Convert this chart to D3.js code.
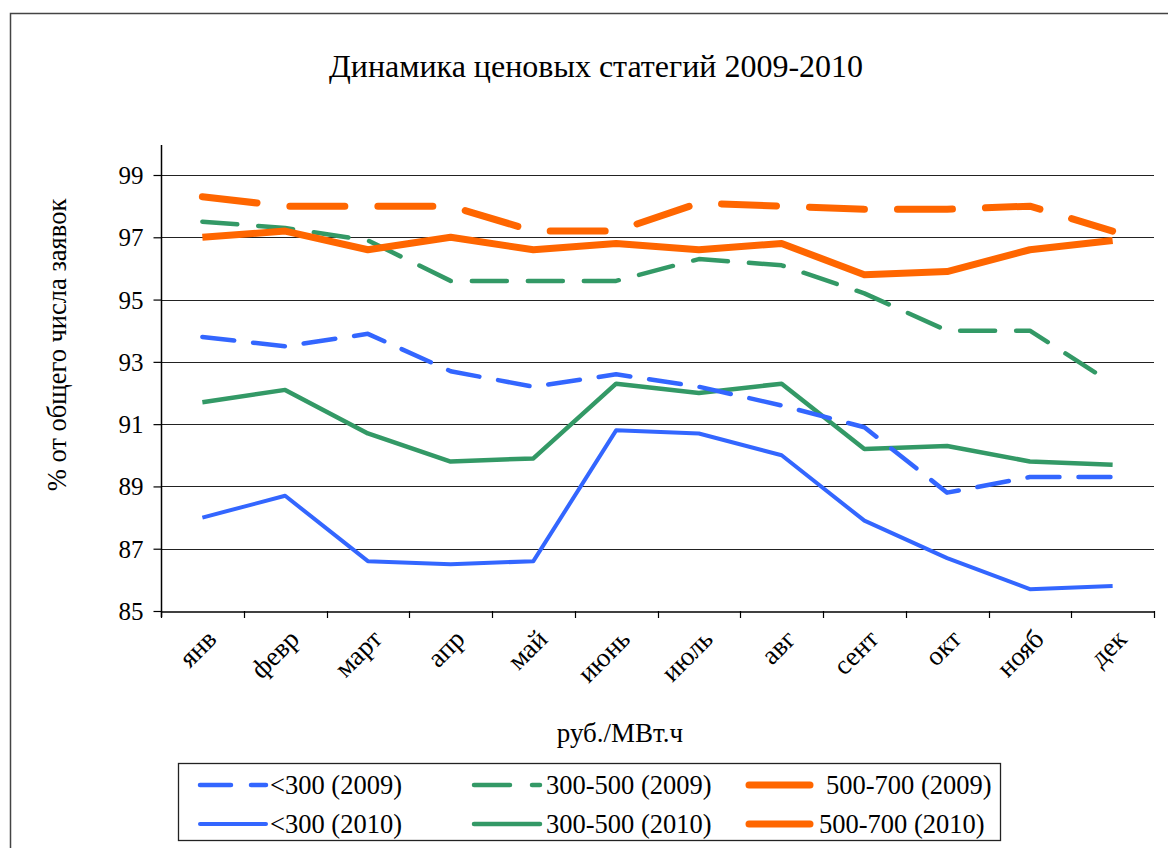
<!DOCTYPE html>
<html>
<head>
<meta charset="utf-8">
<script src="https://cdn.jsdelivr.net/npm/d3@7/dist/d3.min.js"></script>
<style>
  html, body { margin: 0; padding: 0; background: #fff; }
  svg { display: block; }
</style>
</head>
<body>
<svg id="chart" width="1168" height="848"></svg>
<script>
// Months (x categories)
const months = ["янв", "февр", "март", "апр", "май", "июнь", "июль", "авг", "сент", "окт", "нояб", "дек"];

// Share of bids by price band, % of total number of bids
const below300_2009 = [93.8, 93.5, 93.9, 92.7, 92.2, 92.6, 92.2, 91.6, 90.9, 88.8, 89.3, 89.3];
const band300_500_2009 = [97.5, 97.3, 96.9, 95.6, 95.6, 95.6, 96.3, 96.1, 95.2, 94.0, 94.0, 92.3];
const band500_700_2009 = [98.3, 98.0, 98.0, 98.0, 97.2, 97.2, 98.1, 98.0, 97.9, 97.9, 98.0, 97.2];
const below300_2010 = [88.0, 88.7, 86.6, 86.5, 86.6, 90.8, 90.7, 90.0, 87.9, 86.7, 85.7, 85.8];
const band300_500_2010 = [91.7, 92.1, 90.7, 89.8, 89.9, 92.3, 92.0, 92.3, 90.2, 90.3, 89.8, 89.7];
const band500_700_2010 = [97.0, 97.2, 96.6, 97.0, 96.6, 96.8, 96.6, 96.8, 95.8, 95.9, 96.6, 96.9];

const yTicks = [85, 87, 89, 91, 93, 95, 97, 99];

const seriesNames = ["<300 (2009)", "300-500 (2009)", "500-700 (2009)",
                     "<300 (2010)", "300-500 (2010)", "500-700 (2010)"];

const BLUE = "#3366ff", GREEN = "#339966", ORANGE = "#ff6600";
const SERIF = "'Liberation Serif', 'Times New Roman', serif";

// Series table built from the arrays above; legend order is row by row
const series = [
  { name: seriesNames[0], values: below300_2009, color: BLUE,   width: 4.5, dash: "32,19", key: "31,20" },
  { name: seriesNames[1], values: band300_500_2009, color: GREEN, width: 4.5, dash: "35,21", key: "36,22" },
  { name: seriesNames[2], values: band500_700_2009, color: ORANGE, width: 7,  dash: "55,33", key: null },
  { name: seriesNames[3], values: below300_2010, color: BLUE,   width: 4, dash: null, key: null },
  { name: seriesNames[4], values: band300_500_2010, color: GREEN, width: 4.5, dash: null, key: null },
  { name: seriesNames[5], values: band500_700_2010, color: ORANGE, width: 7, dash: null, key: null }
];

const svg = d3.select("#chart");

function label(sel, size) {
  return sel.attr("font-family", SERIF).attr("font-size", size).attr("fill", "#000");
}

// Outer chart frame
svg.append("path")
  .attr("d", "M10.5,860 L10.5,13.5 L1180,13.5")
  .attr("fill", "none").attr("stroke", "#444").attr("stroke-width", 1.5);

// Title
label(svg.append("text"), 32)
  .attr("x", 596).attr("y", 77)
  .attr("text-anchor", "middle")
  .text("Динамика ценовых статегий 2009-2010");

const plot = { left: 161, right: 1154, top: 175, bottom: 611 };

const x = d3.scaleBand().domain(months).range([plot.left, plot.right]).padding(0);
const y = d3.scaleLinear().domain([85, 99]).range([plot.bottom, plot.top]);

// Horizontal gridlines
svg.append("g")
  .selectAll("line")
  .data(yTicks.filter(t => t !== 85))
  .join("line")
  .attr("x1", plot.left).attr("x2", plot.right)
  .attr("y1", d => Math.round(y(d)) + 0.5).attr("y2", d => Math.round(y(d)) + 0.5)
  .attr("stroke", "#222").attr("stroke-width", 1.2);

// Y axis
const yAxis = svg.append("g")
  .attr("transform", `translate(${plot.left + 0.5},0)`)
  .call(d3.axisLeft(y).tickValues(yTicks).tickSize(8).tickPadding(10).tickFormat(d3.format("d")));
yAxis.select(".domain").attr("stroke", "#000").attr("stroke-width", 1.5)
  .attr("d", `M0,${plot.top - 30}V${plot.bottom + 6}`);
yAxis.selectAll(".tick line").attr("stroke", "#000").attr("stroke-width", 1.2);
label(yAxis.selectAll(".tick text"), 25).attr("dy", "0.34em");

// X axis
const xAxis = svg.append("g")
  .attr("transform", `translate(0,${Math.round(plot.bottom) + 0.5})`)
  .call(d3.axisBottom(x).tickSize(0).tickFormat(""));
xAxis.select(".domain").attr("stroke", "#000").attr("stroke-width", 1.5);

// Category boundary ticks
const bounds = months.map(m => x(m)).concat([plot.right]);
svg.append("g")
  .selectAll("line")
  .data(bounds)
  .join("line")
  .attr("x1", d => Math.round(d) + 0.5).attr("x2", d => Math.round(d) + 0.5)
  .attr("y1", plot.bottom).attr("y2", plot.bottom + 7)
  .attr("stroke", "#000").attr("stroke-width", 1.2);

// Rotated month labels
label(svg.append("g")
  .selectAll("text")
  .data(months)
  .join("text"), 27)
  .attr("transform", d => `translate(${x(d) + x.bandwidth() / 2 + 9},${plot.bottom + 23}) rotate(-45)`)
  .attr("text-anchor", "end")
  .attr("dy", "0.35em")
  .text(d => d);

// Axis titles
label(svg.append("text"), 26.5)
  .attr("transform", `translate(66,${(plot.top + plot.bottom) / 2 - 48}) rotate(-90)`)
  .attr("text-anchor", "middle")
  .text("% от общего числа заявок");

label(svg.append("text"), 27)
  .attr("x", 620).attr("y", 742)
  .attr("text-anchor", "middle")
  .text("руб./МВт.ч");

// Lines
const line = d3.line()
  .x((d, i) => x(months[i]) + x.bandwidth() / 2)
  .y(d => y(d));

const drawOrder = [4, 3, 0, 1, 5, 2];
svg.append("g")
  .selectAll("path")
  .data(drawOrder.map(i => series[i]))
  .join("path")
  .attr("d", d => line(d.values))
  .attr("fill", "none")
  .attr("stroke", d => d.color)
  .attr("stroke-width", d => d.width)
  .attr("stroke-linecap", d => d.dash ? "round" : "butt")
  .attr("stroke-linejoin", "round")
  .attr("stroke-dasharray", d => d.dash);

// Legend
const legend = svg.append("g");
legend.append("rect")
  .attr("x", 178.5).attr("y", 763.5).attr("width", 822).attr("height", 77)
  .attr("fill", "#fff").attr("stroke", "#222").attr("stroke-width", 1.3);

const colX = [200, 474, 749];
const rowY = [785, 824];
const textX = [270, 546, 819];

series.forEach((s, i) => {
  const col = i % 3, row = Math.floor(i / 3);
  const ly = rowY[row];
  legend.append("line")
    .attr("x1", colX[col]).attr("x2", colX[col] + (col === 2 ? 61 : 66))
    .attr("y1", ly).attr("y2", ly)
    .attr("stroke", s.color)
    .attr("stroke-width", s.width)
    .attr("stroke-linecap", "round")
    .attr("stroke-dasharray", s.key);
  label(legend.append("text"), 26.5)
    .attr("x", textX[col] + (col === 2 && row === 0 ? 7 : 0)).attr("y", ly)
    .attr("dy", "0.35em")
    .text(s.name);
});
</script>
</body>
</html>
